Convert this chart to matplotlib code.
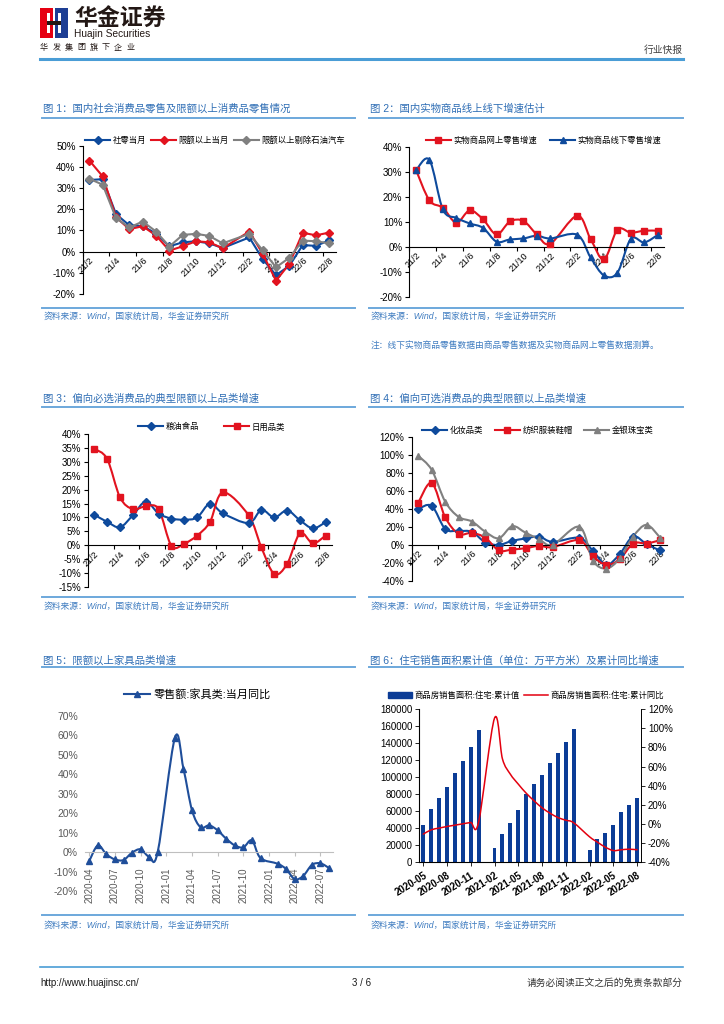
import numpy as np
import matplotlib.pyplot as plt
from matplotlib.lines import Line2D
from matplotlib.patches import Rectangle, PathPatch
from matplotlib.path import Path

plt.rcParams['font.family'] = ['Liberation Sans', 'Noto Sans CJK SC', 'DejaVu Sans']
plt.rcParams['axes.unicode_minus'] = False

nan = np.nan

# ---- data -------------------------------------------------------------
cats = ['21/2', '21/3', '21/4', '21/5', '21/6', '21/7', '21/8', '21/9', '21/10',
        '21/11', '21/12', '22/1', '22/2', '22/3', '22/4', '22/5', '22/6', '22/7', '22/8']

# fig 1
retail_month = [33.8, 34.2, 17.7, 12.4, 12.1, 8.5, 2.5, 4.4, 4.9, 3.9, 1.7, nan,
                6.7, -3.5, -11.1, -6.7, 3.1, 2.7, 5.4]
above_quota = [43.0, 35.5, 16.2, 10.6, 12.0, 7.6, 0.5, 2.5, 4.9, 4.4, 1.6, nan,
               9.5, -1.0, -13.7, -5.8, 8.9, 7.7, 9.0]
above_ex_oil_auto = [34.4, 31.6, 15.8, 11.4, 14.2, 9.5, 2.4, 7.9, 8.4, 7.4, 3.9, nan,
                     8.4, 0.6, -7.4, -2.9, 5.2, 4.9, 3.9]

# fig 2
online_goods = [30.7, 18.5, 15.6, 9.6, 14.5, 10.9, 4.9, 10.1, 10.3, 4.9, 1.2, nan,
                12.4, 3.1, -5.1, 6.8, 5.6, 6.4, 6.4]
offline_goods = [30.5, 34.7, 14.9, 11.5, 9.3, 7.5, 2.0, 2.9, 3.3, 4.4, 3.3, nan,
                 4.8, -4.3, -11.5, -10.4, 3.1, 1.7, 4.7]

# fig 3
grain_food = [11.0, 8.4, 6.5, 10.8, 15.7, 11.4, 9.6, 9.2, 10.0, 15.0, 11.5, nan,
              8.0, 12.7, 10.0, 12.5, 9.0, 6.1, 8.3]
daily_use = [34.7, 31.0, 17.2, 13.0, 14.0, 13.0, -0.2, 0.6, 3.5, 8.4, 19.0, nan,
             10.8, -0.8, -10.3, -6.7, 4.3, 0.7, 3.5]

# fig 4
cosmetics = [40.2, 43.5, 17.8, 15.6, 14.5, 2.6, 0.0, 4.5, 7.1, 9.3, 3.3, nan,
             7.8, -6.7, -22.3, -10.4, 9.3, 0.7, -6.3]
textiles = [47.2, 69.1, 30.9, 12.3, 13.4, 7.8, -6.3, -5.2, -3.7, -1.1, -2.6, nan,
            5.2, -12.6, -22.3, -16.0, 1.5, 1.5, 5.2]
jewelry = [99.3, 83.6, 48.3, 31.2, 26.0, 14.5, 7.4, 20.8, 13.4, 6.3, 0.0, nan,
           20.1, -17.5, -26.4, -15.2, 9.3, 22.3, 8.2]

# fig 5
months5 = ['2020-04', '2020-05', '2020-06', '2020-07', '2020-08', '2020-09', '2020-10',
           '2020-11', '2020-12', '2021-01', '2021-02', '2021-03', '2021-04', '2021-05',
           '2021-06', '2021-07', '2021-08', '2021-09', '2021-10', '2021-11', '2021-12',
           '2022-01', '2022-02', '2022-03', '2022-04', '2022-05', '2022-06', '2022-07',
           '2022-08']
furniture = [-4.6, 3.4, -1.2, -3.8, -4.1, -0.3, 1.4, -2.4, 0.2, nan, 58.7, 42.8, 21.4,
             12.7, 13.7, 11.1, 6.8, 3.4, 2.4, 6.0, -3.1, nan, -6.0, -8.8, -14.0, -12.2,
             -6.6, -5.8, -8.2]

# fig 6
months6 = months5[1:]
house_area = [44000, 62100, 75500, 88400, 104900, 119100, 135200, 155800, nan,
              16100, 33000, 46000, 60900, 79800, 92000, 103000, 117100, 128100,
              141100, 157000, nan, 14100, 27100, 34200, 43600, 58600, 67200, 75500]
house_yoy = [-10.8, -6.3, -4.5, -2.8, -1.4, 0.0, 1.4, 2.1, nan, 110.7, 68.1, 52.0,
             41.6, 32.1, 24.1, 16.8, 11.2, 6.6, 3.8, 1.1, nan, -13.6, -19.2, -24.5,
             -28.0, -27.2, -26.6, -27.2]

titles = ['图 1：国内社会消费品零售及限额以上消费品零售情况',
          '图 2：国内实物商品线上线下增速估计',
          '图 3：偏向必选消费品的典型限额以上品类增速',
          '图 4：偏向可选消费品的典型限额以上品类增速',
          '图 5：限额以上家具品类增速',
          '图 6：住宅销售面积累计值（单位：万平方米）及累计同比增速']
source = '资料来源：Wind，国家统计局，华金证券研究所'
note2 = '注：线下实物商品零售数据由商品零售数据及实物商品网上零售数据测算。'

# ---- style ------------------------------------------------------------
BLUE = '#0E4A9C'
RED = '#E2131F'
GREY = '#808080'
TITLE_C = '#2F6EB5'
RULE_C = '#6CA8DC'
SRC_C = '#3F7CC0'

W, H = 724, 1024
fig = plt.figure(figsize=(W / 100, H / 100), dpi=100)


def fy(y):
    return 1 - y / H


def add_ax(x0, ytop, x1, ybot):
    return fig.add_axes([x0 / W, fy(ybot), (x1 - x0) / W, (ybot - ytop) / H])


def hline(x0, x1, y, color, lw):
    fig.add_artist(Line2D([x0 / W, x1 / W], [fy(y), fy(y)], color=color, lw=lw))


def text(x, y, s, **kw):
    kw.setdefault('va', 'center')
    fig.text(x / W, fy(y), s, **kw)


def rect(x, y, w, h, color):
    fig.add_artist(Rectangle((x / W, fy(y + h)), w / W, h / H, color=color,
                             transform=fig.transFigure, lw=0))


def panel(x0, x1, title, ytitle, yrule, ybot, ysrc):
    text(x0 + 1.5, ytitle, title, color=TITLE_C, fontsize=7.5)
    hline(x0, x1, yrule, RULE_C, 1.4)
    hline(x0, x1, ybot, RULE_C, 1.4)
    text(x0 + 1.5, ysrc, source, color=SRC_C, fontsize=6.3, style='italic')


def smooth_line(ax, x, y, color, lw):
    verts = [(x[0], y[0])]
    codes = [Path.MOVETO]
    n = len(x)
    for i in range(n - 1):
        xa, ya = (x[i - 1], y[i - 1]) if i > 0 else (x[i], y[i])
        xb, yb = (x[i + 2], y[i + 2]) if i + 2 < n else (x[i + 1], y[i + 1])
        c1 = (x[i] + (x[i + 1] - xa) / 6, y[i] + (y[i + 1] - ya) / 6)
        c2 = (x[i + 1] - (xb - x[i]) / 6, y[i + 1] - (yb - y[i]) / 6)
        verts += [c1, c2, (x[i + 1], y[i + 1])]
        codes += [Path.CURVE4] * 3
    ax.add_patch(PathPatch(Path(verts, codes), fill=False, edgecolor=color, lw=lw,
                           zorder=2, joinstyle='round', capstyle='round'))


def series(ax, vals, color, marker, ms, smooth=False, lw=1.5):
    y = np.asarray(vals, float)
    x = np.arange(len(y))
    m = ~np.isnan(y)
    if smooth:
        smooth_line(ax, x[m], y[m], color, lw)
        ax.plot(x[m], y[m], ls='none', marker=marker, ms=ms, color=color, zorder=3)
    else:
        ax.plot(x[m], y[m], color=color, lw=lw, marker=marker, ms=ms, zorder=3)
    return Line2D([], [], color=color, lw=lw, marker=marker, ms=ms)


def cat_axes(ax, ylo, yhi, step):
    ax.set_xlim(-0.5, len(cats) - 0.5)
    ax.set_ylim(ylo, yhi)
    ticks = np.arange(ylo, yhi + 0.01, step)
    ax.set_yticks(ticks)
    ax.set_yticklabels([f'{t:.0f}%' for t in ticks], fontsize=7)
    for s in ['top', 'right']:
        ax.spines[s].set_visible(False)
    ax.spines['bottom'].set_position(('data', 0))
    for s in ['bottom', 'left']:
        ax.spines[s].set_linewidth(0.8)
    ax.set_xticks(range(0, len(cats), 2))
    ax.set_xticklabels(cats[::2], rotation=45, ha='right', rotation_mode='anchor',
                       fontsize=6.5)
    ax.set_xticks(np.arange(-0.5, len(cats), 2), minor=True)
    ax.tick_params(axis='x', which='major', length=0, pad=3)
    ax.tick_params(axis='x', which='minor', length=3, width=0.8)
    ax.tick_params(axis='y', length=3, width=0.8, pad=2)
    ax.patch.set_alpha(0)


def legend(ax, handles, labels, cx, cy, fs=6, hl=3.0, cs=0.9):
    ax.legend(handles, labels, loc='center', bbox_to_anchor=(cx / W, fy(cy)),
              bbox_transform=fig.transFigure, ncol=len(handles), frameon=False,
              fontsize=fs, handlelength=hl, columnspacing=cs, handletextpad=0.3,
              borderpad=0, borderaxespad=0)


# ---- header -----------------------------------------------------------
rect(40, 8, 13, 30, '#E60012')
rect(55, 8, 13, 30, '#1D3E94')
rect(47, 13, 3, 20, 'white')
rect(58, 13, 3, 20, 'white')
rect(47, 21, 14, 4, '#231815')
text(74, 19, '华金证券', fontsize=16.5, weight='bold', color='#231815')
text(74, 34, 'Huajin Securities', fontsize=7.3, color='#231815')
for i, ch in enumerate('华发集团旗下企业'):
    text(40 + i * 12.3, 48, ch, fontsize=5.8, color='#231815')
text(683, 50, '行业快报', fontsize=7, color='#404040', ha='right')
hline(40, 683, 58.5, '#4A9DD6', 2.2)

# ---- footer -----------------------------------------------------------
hline(40, 683, 967, '#4A9DD6', 1.2)
text(40, 983, 'http://www.huajinsc.cn/', fontsize=7, color='#1A1A1A')
text(362, 983, '3 / 6', fontsize=7, color='#1A1A1A', ha='center')
text(683, 983, '请务必阅读正文之后的免责条款部分', fontsize=7, color='#333333', ha='right')

# ---- panel frames -----------------------------------------------------
panel(41.7, 355, titles[0], 109, 117.7, 308.3, 316.7)
panel(369, 683, titles[1], 109, 117.7, 307.7, 316.7)
text(370.5, 345.7, note2, color=SRC_C, fontsize=6.3, style='italic')
panel(41.7, 355, titles[2], 398.3, 406.7, 596.7, 606)
panel(369, 683, titles[3], 398.3, 406.7, 596.7, 606)
panel(41.7, 355, titles[4], 661, 666.7, 915, 925)
panel(369, 683, titles[5], 661, 666.7, 915, 925)

# ---- fig 1 ------------------------------------------------------------
ax1 = add_ax(82.7, 145.7, 336, 294)
h = [series(ax1, retail_month, BLUE, 'D', 3.8),
     series(ax1, above_quota, RED, 'D', 3.8),
     series(ax1, above_ex_oil_auto, GREY, 'D', 3.8)]
cat_axes(ax1, -20, 50, 10)
legend(ax1, h, ['社零当月', '限额以上当月', '限额以上剔除石油汽车'], 215, 141, hl=3.0, cs=0.6)

# ---- fig 2 ------------------------------------------------------------
ax2 = add_ax(409.3, 146.7, 664.4, 296.7)
h = [series(ax2, online_goods, RED, 's', 5, smooth=True),
     series(ax2, offline_goods, BLUE, '^', 5, smooth=True)]
cat_axes(ax2, -20, 40, 10)
legend(ax2, h, ['实物商品网上零售增速', '实物商品线下零售增速'], 543.5, 140.7, hl=3.0, cs=1.6)

# ---- fig 3 ------------------------------------------------------------
ax3 = add_ax(87.9, 434, 332.1, 587)
h = [series(ax3, grain_food, BLUE, 'D', 3.8, smooth=True),
     series(ax3, daily_use, RED, 's', 5, smooth=True)]
cat_axes(ax3, -15, 40, 5)
legend(ax3, h, ['粮油食品', '日用品类'], 211.5, 427.3, hl=3.0, cs=3.0)

# ---- fig 4 ------------------------------------------------------------
ax4 = add_ax(411.6, 437.3, 666.7, 580.7)
h = [series(ax4, cosmetics, BLUE, 'D', 3.8, smooth=True),
     series(ax4, textiles, RED, 's', 5, smooth=True),
     series(ax4, jewelry, GREY, '^', 5, smooth=True)]
cat_axes(ax4, -40, 120, 20)
legend(ax4, h, ['化妆品类', '纺织服装鞋帽', '金银珠宝类'], 538, 431, hl=3.0, cs=1.4)

# ---- fig 5 ------------------------------------------------------------
ax5 = add_ax(85, 715.7, 333.3, 891)
h = [series(ax5, furniture, '#1F4E9A', '^', 4.5, smooth=True)]
ax5.set_xlim(-0.5, len(months5) - 0.5)
ax5.set_ylim(-20, 70)
t5 = np.arange(-20, 71, 10)
ax5.set_yticks(t5)
ax5.set_yticklabels([f'{t}%' for t in t5], fontsize=7.5, color='#595959')
for s in ['top', 'right', 'left']:
    ax5.spines[s].set_visible(False)
ax5.spines['bottom'].set_position(('data', 0))
ax5.spines['bottom'].set_color('#BFBFBF')
ax5.set_xticks(range(0, len(months5), 3))
ax5.set_xticklabels(months5[::3], rotation=90, fontsize=7, color='#595959')
ax5.tick_params(axis='x', length=3, color='#BFBFBF', pad=8)
ax5.tick_params(axis='y', length=0, pad=5)
ax5.patch.set_alpha(0)
legend(ax5, h, ['零售额:家具类:当月同比'], 197.5, 694, fs=8, hl=2.3)

# ---- fig 6 ------------------------------------------------------------
ax6 = add_ax(419.3, 709.3, 641, 862)
x6 = np.arange(len(months6))
area = np.asarray(house_area, float)
ax6.bar(x6, np.nan_to_num(area), width=0.5, color='#0B3C96', zorder=2)
ax6.set_xlim(-0.5, len(months6) - 0.5)
ax6.set_ylim(0, 180000)
t6 = np.arange(0, 180001, 20000)
ax6.set_yticks(t6)
ax6.set_yticklabels([str(t) for t in t6], fontsize=7)
ax6.set_xticks(range(0, len(months6), 3))
ax6.set_xticklabels(months6[::3], rotation=32, ha='right', rotation_mode='anchor',
                    fontsize=7, weight='semibold')
ax6.tick_params(axis='both', length=3, width=0.6, pad=2)
ax6.tick_params(axis='x', pad=3)
ax6.spines['top'].set_visible(False)
for s in ['left', 'right', 'bottom']:
    ax6.spines[s].set_linewidth(0.6)
ax6b = ax6.twinx()
yoy = np.asarray(house_yoy, float)
m = ~np.isnan(yoy)
smooth_line(ax6b, x6[m], yoy[m], '#E3000F', 1.1)
ax6b.set_ylim(-40, 120)
t6b = np.arange(-40, 121, 20)
ax6b.set_yticks(t6b)
ax6b.set_yticklabels([f'{t}%' for t in t6b], fontsize=7)
ax6b.tick_params(axis='y', length=3, width=0.6, pad=2)
ax6b.spines['top'].set_visible(False)
ax6b.spines['right'].set_linewidth(0.6)
h6 = [Rectangle((0, 0), 1, 1, color='#0B3C96'), Line2D([], [], color='#E3000F', lw=1.1)]
legend(ax6b, h6, ['商品房销售面积:住宅:累计值', '商品房销售面积:住宅:累计同比'], 526, 695.7,
       fs=6, hl=2.9, cs=0.5)

fig.savefig('out.png', dpi=100)
